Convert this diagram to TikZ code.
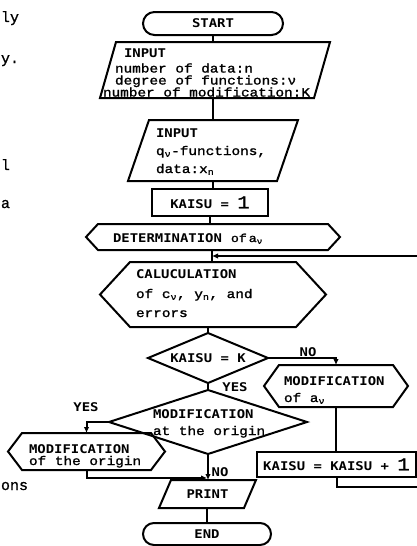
\documentclass[tikz,border=0pt]{standalone}
\usepackage{fontspec}
\newfontfamily\tw{Liberation Mono}[FakeStretch=1.15,FakeBold=1.5]
\newfontfamily\bodyfont{Liberation Mono}[FakeBold=1]
\newfontfamily\lbl{DejaVu Sans Mono}[FakeStretch=1.16]
\usetikzlibrary{shapes.misc,arrows.meta}
\newcommand\fcpar[2]{\draw[shp] ([xshift=#2pt]#1.north west) -- (#1.north east) -- ([xshift=-#2pt]#1.south east) -- (#1.south west) -- cycle;}
\newcommand\fchex[2]{\draw[shp] ([xshift=#2pt]#1.north west) -- ([xshift=-#2pt]#1.north east) -- (#1.east) -- ([xshift=-#2pt]#1.south east) -- ([xshift=#2pt]#1.south west) -- (#1.west) -- cycle;}
\newcommand\fcdia[1]{\draw[shp] (#1.north) -- (#1.east) -- (#1.south) -- (#1.west) -- cycle;}
\begin{document}
\begin{tikzpicture}[x=1pt,y=-1pt,line width=2pt,
 shp/.style={line width=2pt,line join=miter},
 shapebox/.style={rectangle,inner sep=0pt,outer sep=0pt,draw=none},
 lab/.style={font=\lbl\bfseries\fontsize{12}{12}\selectfont},
 twf/.style={font=\tw\fontsize{12.5}{12}\selectfont},
 txt/.style={inner sep=0pt,anchor=base west},
 frag/.style={inner sep=0pt,anchor=base west,font=\bodyfont\fontsize{15}{15}\selectfont},
 arr/.style={-{Latex[length=6pt,width=5.5pt]}},
 term/.style={rounded rectangle,draw,inner sep=0pt,line width=2pt}]
\useasboundingbox (0,0) rectangle (417,546);

% left margin fragments
\node[frag] (f1) at (0,22) {ly};
\node[frag] (f2) at (0,63) {y.};
\node[frag] (f3) at (0,170) {l};
\node[frag] (f4) at (0,208) {a};
\node[frag] (f5) at (0,490) {ons};

\node[term,minimum width=140pt,minimum height=23pt,lab] (start) at (213,23.5) {START};

\node[shapebox,minimum width=230pt,minimum height=56pt] (p1) at (215,70) {};
\fcpar{p1}{16}
\node[txt,lab] (p1a) at (123,57) {INPUT};
\node[txt,twf] (p1b) at (114,72.5) {number of data:n};
\node[txt,twf] (p1c) at (114,84.5) {degree of functions:ν};
\node[txt,twf] (p1d) at (102,96.5) {number of modification:K};

\node[shapebox,minimum width=170pt,minimum height=61pt] (p2) at (213,150.5) {};
\fcpar{p2}{21}
\node[txt,lab] (p2a) at (155,137) {INPUT};
\node[txt,twf] (p2b) at (155,155) {q\textsubscript{ν}-functions,};
\node[txt,twf] (p2c) at (155,173) {data:x\textsubscript{n}};

\node[draw,rectangle,inner sep=0pt,minimum width=116pt,minimum height=27pt,lab] (k1) at (210,202.5) {KAISU = {\tw\mdseries\fontsize{18}{18}\selectfont 1}};

\node[shapebox,minimum width=254pt,minimum height=26pt] (det) at (213,237) {};
\fchex{det}{12}
\node[txt,lab] (dett) at (112,242) {DETERMINATION\hspace{9pt}{\tw\mdseries\fontsize{11.5}{12}\selectfont of\hspace{2pt}a\textsubscript{ν}}};

\coordinate (join1) at (212,256);
\coordinate (loopc) at (425,256);

\node[shapebox,minimum width=226pt,minimum height=65pt] (calc) at (213,294.5) {};
\fchex{calc}{30}
\node[txt,lab] (calct1) at (135,278) {CALUCULATION};
\node[txt,twf] (calct2) at (135,298) {of c\textsubscript{ν}, y\textsubscript{n}, and};
\node[txt,twf] (calct3) at (135,317) {errors};

\node[shapebox,minimum width=120pt,minimum height=50pt,lab] (d1) at (208,358) {KAISU = K};
\fcdia{d1}

\node[shapebox,minimum width=144pt,minimum height=42pt] (ma) at (336,386) {};
\fchex{ma}{15}
\node[txt,lab] (mat1) at (283,385) {MODIFICATION};
\node[txt,twf] (mat2) at (283,402) {of a\textsubscript{ν}};

\node[draw,rectangle,inner sep=0pt,minimum width=159pt,minimum height=25pt,lab] (k2) at (336.5,464.5) {KAISU = KAISU + {\tw\mdseries\fontsize{18}{18}\selectfont 1}};

\node[shapebox,minimum width=198pt,minimum height=64pt] (d2) at (208,422) {};
\fcdia{d2}
\node[txt,lab] (d2t1) at (152,418) {MODIFICATION};
\node[txt,twf] (d2t2) at (152,435) {at the origin};

\node[shapebox,minimum width=157pt,minimum height=37pt] (mo) at (86.5,451.5) {};
\fchex{mo}{14}
\node[txt,lab] (mot1) at (28,453) {MODIFICATION};
\node[txt,twf] (mot2) at (28,465) {of the origin};

\coordinate (join2) at (207,478);

\node[shapebox,minimum width=97pt,minimum height=28pt,lab] (pr) at (207.5,494) {PRINT};
\fcpar{pr}{12}

\node[term,minimum width=128pt,minimum height=22pt,lab] (end) at (207,534) {END};

% labels
\node[lab] (no1) at (308,352) {NO};
\node[lab] (yes1) at (235,387) {YES};
\node[lab] (yes2) at (86,407) {YES};
\node[lab] (no2) at (220,472) {NO};

% connectors
\draw (start.south) -- (start.south |- p1.north);
\draw (p1.south -| p2.north) -- (p2.north);
\draw (p2.south) -- (p2.south |- k1.north);
\draw (k1.south) -- (k1.south |- det.north);
\draw (det.south -| join1) -- (calc.north -| join1);
\draw[arr] (k2.south) -- ++(0,9) -| (loopc) -- (join1);
\draw (calc.south -| d1.north) -- (d1.north);
\draw[arr] (d1.east) -- (d1.east -| ma.north) -- (ma.north);
\draw (ma.south) -- (ma.south |- k2.north);
\draw (d1.south) -- (d2.north);
\draw[arr] (d2.west) -| (mo.north);
\draw[arr] (mo.south) |- (join2);
\draw[arr] (d2.south) -- (d2.south |- pr.north);
\draw (pr.south -| end.north) -- (end.north);
\end{tikzpicture}
\end{document}
